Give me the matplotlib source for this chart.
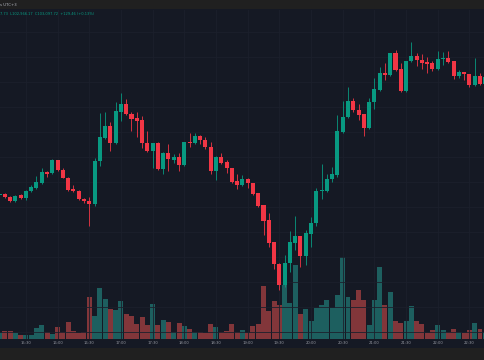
import numpy as np
import matplotlib.pyplot as plt
from matplotlib.patches import Rectangle

# 5-minute candles, 15:05 .. 22:45 (UTC+3)
opens = [100738, 100758, 100704, 100612, 100732, 100684, 100818, 100884, 100984, 101198,
         101172, 101432, 101244, 101084, 100858, 100824, 100658, 100624, 100558, 101424,
         101884, 102112, 101784, 102404, 102564, 102352, 102272, 102232, 101778, 101624,
         101778, 101252, 101584, 101444, 101504, 101338, 101798, 101778, 101912, 101838,
         101704, 101212, 101498, 101392, 101272, 101018, 100932, 101052, 100978, 100778,
         100538, 100232, 99798, 99364, 98938, 99378, 99784, 99918, 99524, 99964,
         100184, 100818, 100824, 101052, 101138, 102004, 102298, 102624, 102444, 102358,
         102084, 102598, 102838, 103184, 103144, 103572, 103252, 102818, 103418, 103524,
         103438, 103398, 103378, 103258, 103452, 103478, 103418, 103124, 103198, 103158,
         102944, 103118, 102958]
highs = [100798, 100772, 100724, 100738, 100764, 100838, 100932, 101118, 101272, 101224,
         101452, 101448, 101272, 101098, 100932, 100838, 100672, 100704, 101472, 102378,
         102392, 102192, 102592, 102784, 102658, 102392, 102392, 102324, 102012, 101788,
         101792, 101598, 101758, 101558, 101584, 101808, 101972, 101972, 101938, 101892,
         101798, 101518, 101584, 101438, 101288, 101158, 101138, 101084, 100988, 100788,
         100548, 100372, 99808, 99378, 99538, 100018, 100318, 99928, 100038, 100304,
         100872, 101358, 101158, 101292, 102338, 102624, 102904, 102672, 102558, 102368,
         102672, 103072, 103292, 103384, 103588, 103638, 103384, 103428, 103798, 103584,
         103558, 103504, 103424, 103612, 103592, 103612, 103428, 103238, 103208, 103168,
         103484, 103172, 103118]
lows = [100698, 100672, 100592, 100598, 100658, 100638, 100798, 100868, 100968, 101104,
        101158, 101228, 101072, 100828, 100804, 100638, 100572, 100118, 100528, 101324,
        101868, 101624, 101768, 102224, 102338, 102024, 101904, 101672, 101608, 101284,
        101238, 101152, 101224, 101384, 101218, 101318, 101704, 101758, 101758, 101658,
        101164, 101044, 101368, 101172, 100988, 100858, 100918, 100872, 100748, 100508,
        99938, 99704, 99258, 98838, 98898, 99204, 99638, 99298, 99338, 99704,
        100124, 100652, 100808, 101004, 101092, 101988, 102288, 102398, 102238, 101918,
        102068, 102458, 102828, 103038, 103128, 103228, 102808, 102808, 103408, 103324,
        103252, 103172, 103212, 103248, 103338, 103384, 103058, 103084, 103038, 102892,
        102928, 102948, 102948]
closes = [100748, 100704, 100612, 100724, 100684, 100818, 100898, 100998, 101192, 101164,
          101432, 101244, 101084, 100844, 100824, 100652, 100624, 100558, 101424, 101892,
          102112, 101784, 102412, 102564, 102352, 102264, 102224, 101784, 101624, 101778,
          101252, 101584, 101452, 101504, 101338, 101792, 101784, 101912, 101838, 101698,
          101218, 101498, 101384, 101272, 101004, 100932, 101052, 100972, 100764, 100524,
          100224, 99784, 99358, 98938, 99378, 99798, 99918, 99524, 99978, 100184,
          100818, 100832, 101058, 101152, 102018, 102304, 102624, 102438, 102338, 102084,
          102604, 102852, 103172, 103144, 103572, 103238, 102824, 103418, 103518, 103438,
          103384, 103364, 103258, 103452, 103478, 103404, 103124, 103204, 103152, 102944,
          103118, 102958, 103098]
volumes = [13, 16, 16, 13, 8, 9, 9, 23, 29, 15,
           11, 24, 15, 35, 16, 13, 14, 85, 47, 103,
           81, 60, 58, 76, 51, 47, 30, 44, 29, 71,
           29, 39, 34, 15, 32, 26, 21, 15, 14, 12,
           31, 24, 15, 17, 31, 15, 19, 12, 26, 30,
           107, 56, 77, 68, 109, 73, 148, 50, 60, 36,
           63, 68, 78, 62, 88, 165, 84, 78, 98, 78,
           28, 78, 144, 68, 94, 36, 32, 36, 66, 36,
           30, 13, 18, 28, 19, 15, 20, 15, 13, 19,
           32, 20, 15]
time_labels = ["15:30", "16:00", "16:30", "17:00", "17:30", "18:00", "18:30", "19:00",
               "19:30", "20:00", "20:30", "21:00", "21:30", "22:00", "22:30"]

bg = "#151924"
up, down = "#089981", "#f23645"
vol_up, vol_down = "#26a69a", "#ef5350"

o, h, l, c = (np.array(a, float) for a in (opens, highs, lows, closes))
x = np.arange(len(o))
rising = c >= o
cols = np.where(rising, up, down)
vcols = np.where(rising, vol_up, vol_down)

fig = plt.figure(figsize=(4.85, 3.6), dpi=100, facecolor="#202020")
fig.patches.append(Rectangle((0, 12 / 360), 1, 339 / 360, transform=fig.transFigure,
                             facecolor=bg, edgecolor="none", zorder=-10))

ax = fig.add_axes([0, 21 / 360, 1, 329 / 360])
axv = ax.twinx()
axv.set_zorder(1)
ax.set_zorder(2)
ax.patch.set_visible(False)
axv.patch.set_visible(False)

# grid
tick_pos = np.arange(5, 90, 6)
for t in tick_pos:
    ax.axvline(t, color="#1c202c", lw=0.6, zorder=0)
for p in np.arange(98000, 104500, 500):
    ax.axhline(p, color="#1c202c", lw=0.6, zorder=0)

# volume
axv.bar(x, volumes, width=0.94, color=vcols, alpha=0.5, linewidth=0)
axv.set_ylim(0, 658)

# candles
ax.vlines(x, l, h, colors=cols, lw=0.6, zorder=3)
body = c - o
body = np.where(np.abs(body) < 20, np.where(body >= 0, 20, -20), body)
ax.bar(x, body, bottom=o, width=0.76, color=cols, linewidth=0, zorder=4)

ax.set_xlim(0.095, 91.95)
ax.set_ylim(97858, 104438)
ax.set_xticks(tick_pos)
ax.set_xticklabels(time_labels)
ax.tick_params(axis="x", length=0, pad=1.6, labelsize=2.7, labelcolor="#9598a1")
ax.set_yticks([])
axv.set_yticks([])
for a in (ax, axv):
    for s in a.spines.values():
        s.set_visible(False)

fig.text(-0.001, 1 - 4.5 / 360, "s UTC+3", fontsize=2.8, color="#b2b5be", va="center", ha="left")
fig.text(0.0, 1 - 14 / 360, "7.73  L102,966.17  C103,097.72  +129.46 (+0.13%)",
         fontsize=2.6, color=up, va="center", ha="left")

fig.savefig("out.png", dpi=100, facecolor=fig.get_facecolor())
